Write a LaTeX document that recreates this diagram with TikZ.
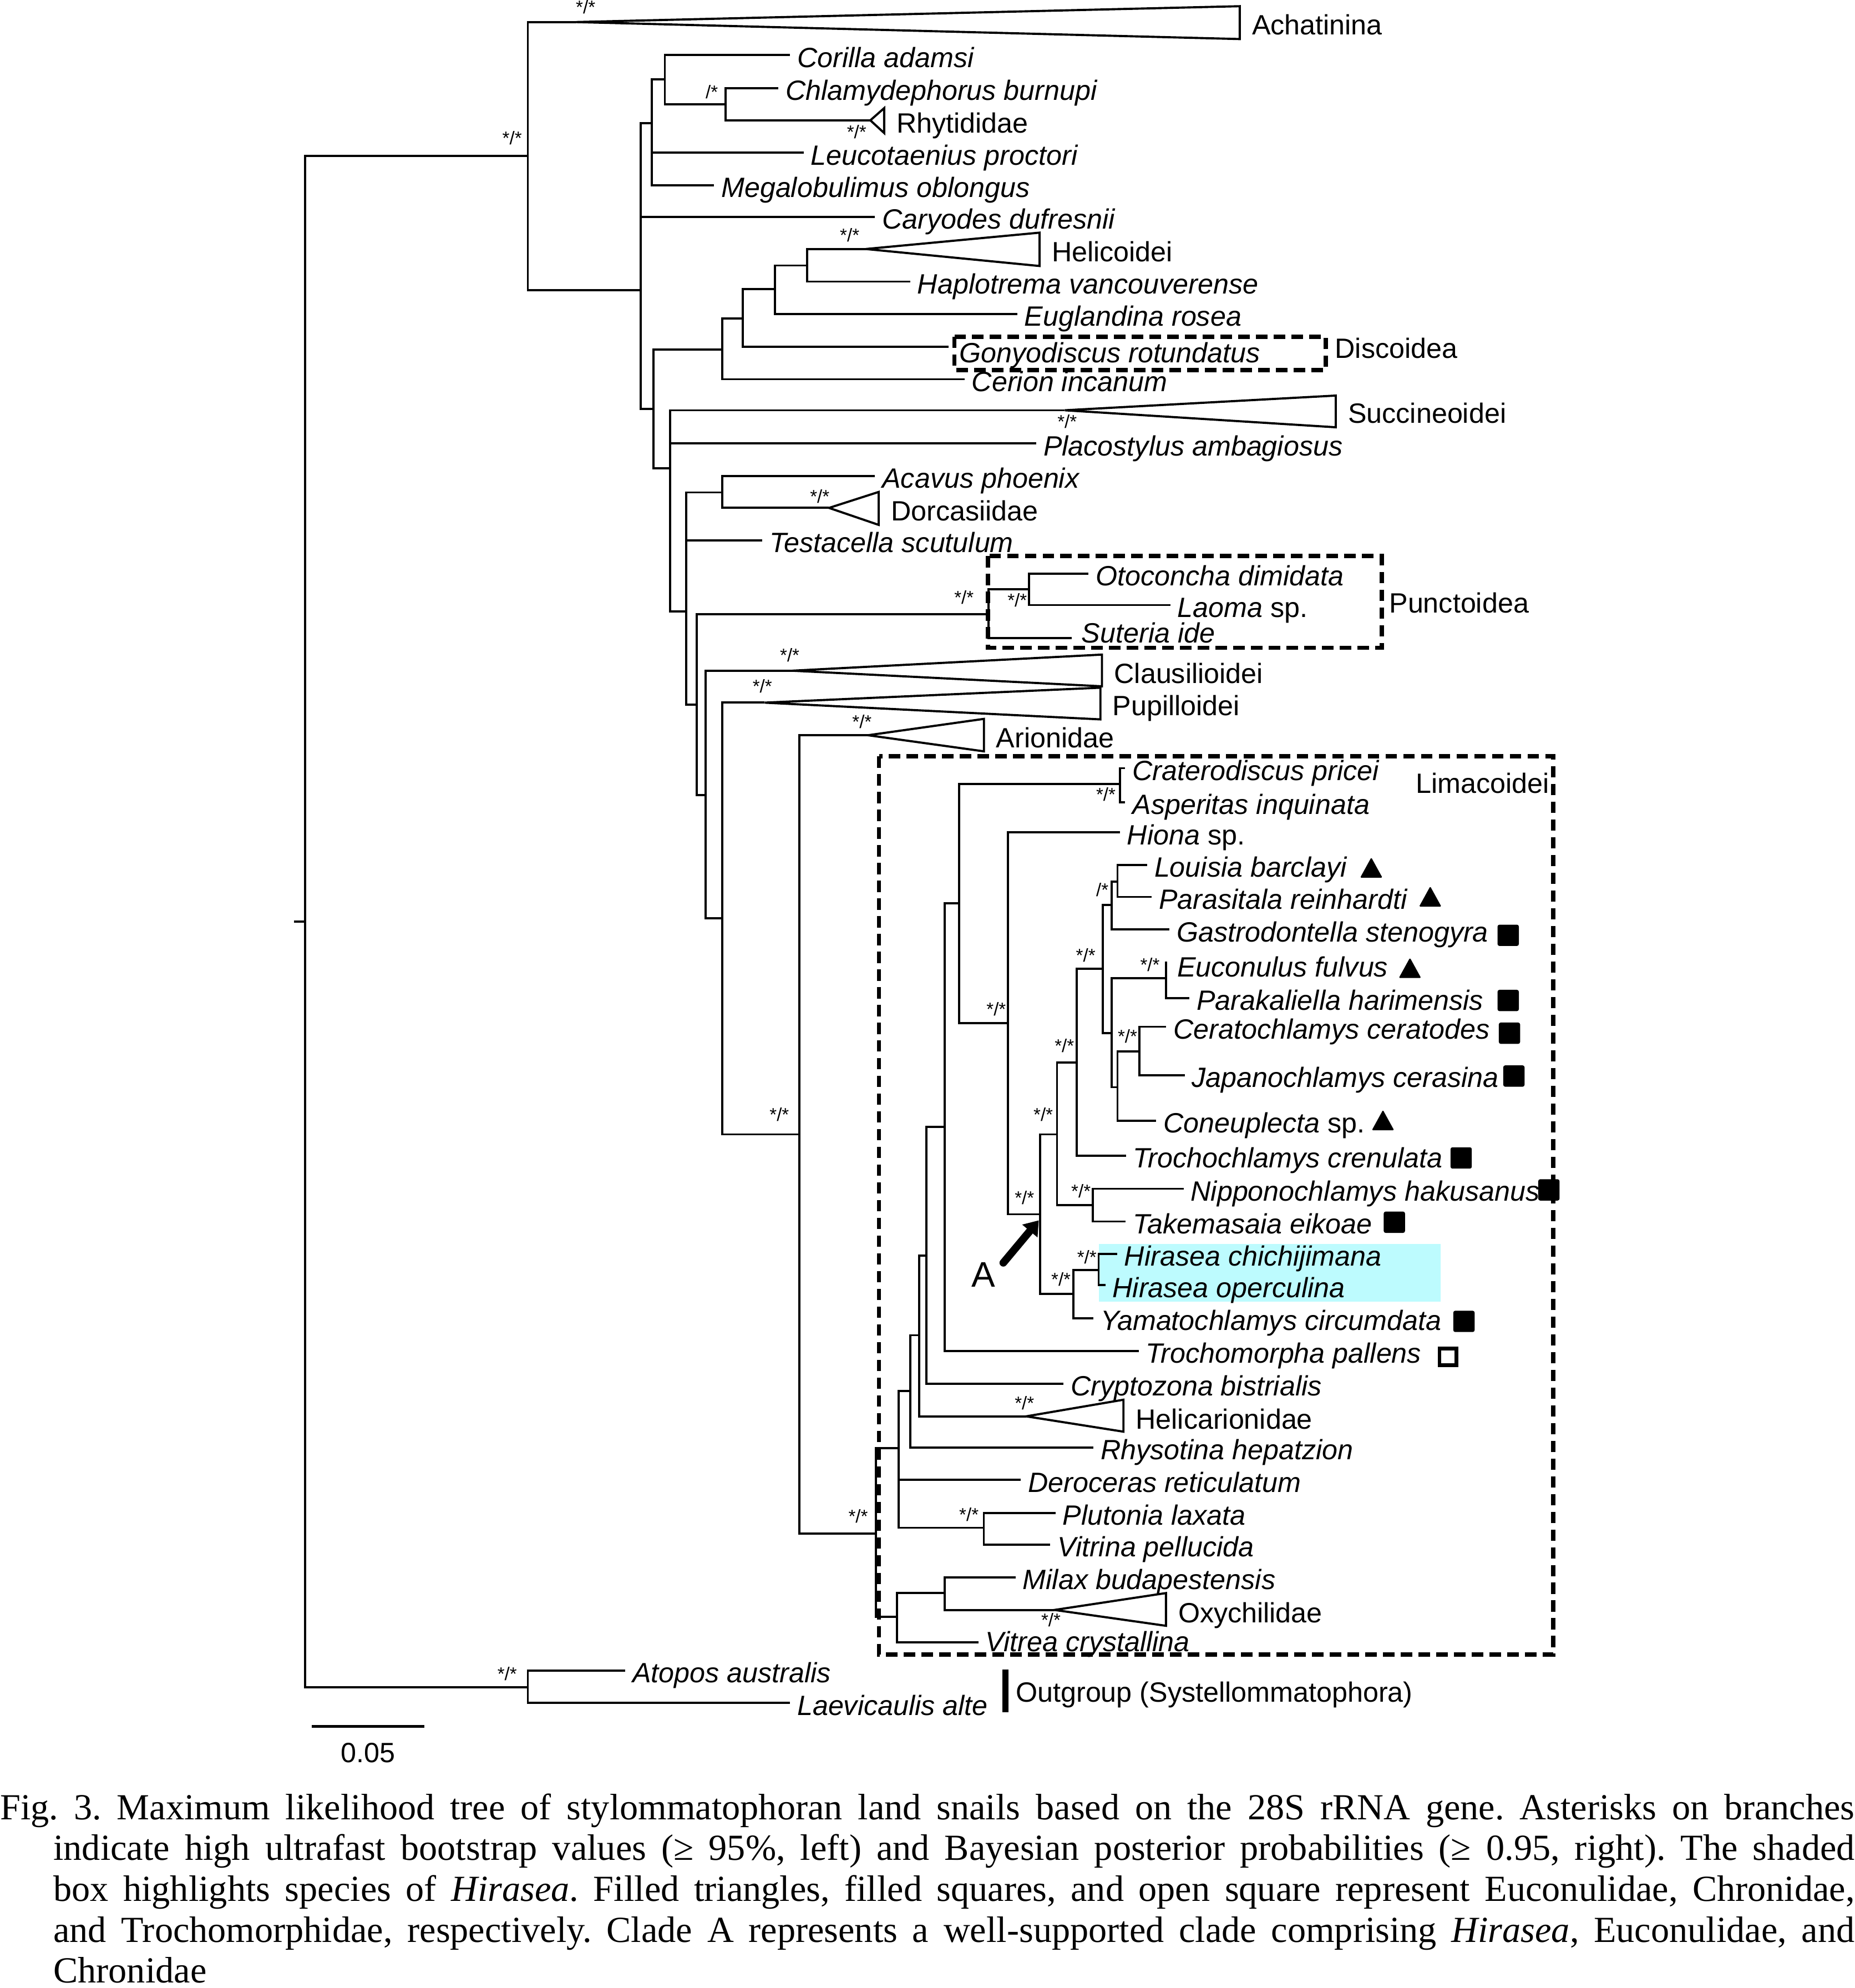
\documentclass[tikz,border=0pt]{standalone}
\usepackage{fontspec}
\setmainfont{Liberation Sans}
\newfontfamily\capfont{Liberation Serif}
\usetikzlibrary{arrows.meta}
\definecolor{hiraseabg}{RGB}{189,251,254}
\newcommand{\bothsig}{*/*}
\newcommand{\bayessig}{/*}
\begin{document}
\begin{tikzpicture}[x=1pt,y=-1pt,
  branch/.style={line width=1.7pt},
  taxon/.style={anchor=base west,inner sep=0pt,xshift=5.5pt,yshift=-9.5pt,font=\fontsize{22}{26}\selectfont\itshape},
  cladename/.style={anchor=base west,inner sep=0pt,xshift=9.5pt,yshift=-10pt,font=\fontsize{22}{26}\selectfont},
  boxname/.style={anchor=base west,inner sep=0pt,font=\fontsize{22}{26}\selectfont},
  support/.style={inner sep=0pt,font=\fontsize{14.5}{17}\selectfont},
  dashbox/.style={line width=3.3pt,dash pattern=on 9pt off 5pt},
  captionline/.style={anchor=base west,inner sep=0pt,font=\capfont\fontsize{29}{32.5}\selectfont\frenchspacing}]
\useasboundingbox (0,0) rectangle (1463,1568);
\fill[hiraseabg] (866.7,981) rectangle (1136.5,1026.7);
% tree nodes and tips
\foreach \n/\x/\y in {r/240.5/726.7,rs/232/726.7,n1/416.4/122.8,acha/454.5/17.4,n2/505.3/228.8,
  n3/514.3/97.1,n4/524.5/62.5,corilla/623.2/43.5,n5/572.4/82.1,chlamy/614/69.6,rhyt/686.6/94.9,
  leuco/634/120.5,megalo/563.3/146.2,caryo/690.3/171,n10/515.4/322.5,n11/569.8/275.6,
  n12/585.8/251.1,n13/611.5/228.1,n14/636.6/209.4,helic/683/196.4,haplo/718.1/222.1,
  eugla/802.5/247.8,gonyo/748.3/273.4,cerion/761/299.1,n20/528.8/369.4,succ/840/323.6,
  placo/817.5/349.8,n21/541.5/482.1,n22/569.8/388.4,acavus/690.3/375.6,dorc/654/400.6,
  testa/601.4/426.3,n24/549.5/555.8,p0/780/484.3,p1/811.9/464.7,otoc/858.8/452.4,
  laoma/923.3/477.2,suter/845.6/503.3,n25/556.8/627.2,claus/625/529,n26/569.6/724.4,
  pupil/603.2/554.2,n27/630.5/894.7,arion/684.8/579.9,L0/691/1209.5,L1/709.1/1142.2,
  L2/718.1/1097,L3/725.3/1053.1,L4/730.9/990.3,L5/745.4/888.9,L6/756.6/712.4,crat/883.5/618.5,
  crate/887.7/605.9,asper/887.7/632.8,L7/795/806.8,hiona/883.5/656.6,A0/820.7/957.7,
  A1/833.9/894.7,A3/849.5/838,E0/870.1/764.1,E1/877.1/713.9,E3/881.6/695.5,louis/905/682.2,
  paras/908.6/707.4,gastro/922.6/733.2,E2/877.1/814.8,E4/920/771.6,eucon/920/758.3,
  parak/938.4/787.2,E5/881.6/857.5,E6/899/829.4,cerat/920/809.8,japan/934.6/848,
  conep/912.2/883.9,troch/888.3/911.5,nipn/862/950.4,nippo/933.7/937.6,takem/888/963.4,
  A2/846.7/1020.4,H0/866.7/1001.6,hchich/881.3/989,hoperc/872/1013.7,yamat/862.7/1039.8,
  tromo/898.3/1065.6,crypt/838.9/1091.5,helicar/809.6/1117.1,rhyso/862.6/1141.7,
  derop/805.4/1167.3,pv/776.1/1205,pluto/832.7/1193.2,vitrin/828.6/1218.3,M0/707.7/1275.3,
  M1/745.4/1256.5,milax/801.2/1244,oxy/831.9/1269.8,vitrea/771.9/1295.4,og/416.4/1330.6,
  atopos/493.3/1317.7,laevi/623.2/1343.2}
  \coordinate (\n) at (\x,\y);
\draw[branch] (rs) -- (r);
\foreach \p/\c in {r/n1,r/og,n1/acha,n1/n2,n2/n3,n2/caryo,n2/n10,n3/n4,n3/leuco,n3/megalo,
  n4/corilla,n4/n5,n5/chlamy,n5/rhyt,n10/n11,n10/n20,n11/n12,n11/cerion,n12/n13,n12/gonyo,
  n13/n14,n13/eugla,n14/helic,n14/haplo,n20/succ,n20/placo,n20/n21,n21/n22,n21/testa,n21/n24,
  n22/acavus,n22/dorc,n24/p0,n24/n25,p0/p1,p0/suter,p1/otoc,p1/laoma,n25/claus,n25/n26,
  n26/pupil,n26/n27,n27/arion,n27/L0,L0/L1,L0/M0,L1/L2,L1/derop,L1/pv,L2/L3,L2/rhyso,
  L3/L4,L3/helicar,L4/L5,L4/crypt,L5/L6,L5/tromo,L6/crat,L6/L7,crat/crate,crat/asper,
  L7/hiona,L7/A0,A0/A1,A0/A2,A1/A3,A1/nipn,A3/E0,A3/troch,E0/E1,E0/E2,E1/E3,E1/gastro,
  E3/louis,E3/paras,E2/E4,E2/E5,E4/eucon,E4/parak,E5/E6,E5/conep,E6/cerat,E6/japan,
  nipn/nippo,nipn/takem,A2/H0,A2/yamat,H0/hchich,H0/hoperc,pv/pluto,pv/vitrin,M0/M1,
  M0/vitrea,M1/milax,M1/oxy,og/atopos,og/laevi}
  \draw[branch] (\p) |- (\c);
% collapsed clades
\foreach \a/\xr/\yt/\yb/\txt in {acha/978/4.9/30.8/Achatinina,rhyt/697.5/85.3/104.9/Rhytididae,
  helic/820.1/183.5/209.8/Helicoidei,succ/1053.8/312/337/Succineoidei,
  dorc/693.2/388/414/Dorcasiidae,claus/869.3/516.3/541.3/Clausilioidei,
  pupil/868.1/542.4/567.4/Pupilloidei,arion/776.2/567/592.6/Arionidae,
  helicar/886.3/1104/1129.2/Helicarionidae,oxy/919.8/1256.5/1282.3/Oxychilidae} {
  \draw[branch] (\a) -- (\xr,\yt) -- (\xr,\yb) -- cycle;
  \coordinate (\a-end) at (\xr,0);
  \node[cladename] (\a-lab) at (\a -| \a-end) {\txt};
}
% tip labels
\foreach \t/\txt in {corilla/Corilla adamsi,chlamy/Chlamydephorus burnupi,leuco/Leucotaenius proctori,
  megalo/Megalobulimus oblongus,caryo/Caryodes dufresnii,haplo/Haplotrema vancouverense,
  eugla/Euglandina rosea,cerion/Cerion incanum,placo/Placostylus ambagiosus,
  acavus/Acavus phoenix,testa/Testacella scutulum,otoc/Otoconcha dimidata,
  laoma/{Laoma \textup{sp.}},crate/Craterodiscus pricei,asper/Asperitas inquinata,
  hiona/{Hiona \textup{sp.}},louis/Louisia barclayi,paras/Parasitala reinhardti,
  gastro/Gastrodontella stenogyra,parak/Parakaliella harimensis,
  cerat/Ceratochlamys ceratodes,japan/Japanochlamys cerasina,conep/{Coneuplecta \textup{sp.}},
  troch/Trochochlamys crenulata,nippo/Nipponochlamys hakusanus,takem/Takemasaia eikoae,
  hchich/Hirasea chichijimana,hoperc/Hirasea operculina,yamat/Yamatochlamys circumdata,
  tromo/Trochomorpha pallens,crypt/Cryptozona bistrialis,rhyso/Rhysotina hepatzion,
  derop/Deroceras reticulatum,pluto/Plutonia laxata,vitrin/Vitrina pellucida,
  milax/Milax budapestensis,atopos/Atopos australis,laevi/Laevicaulis alte}
  \node[taxon] (\t-lab) at (\t) {\txt};
\node[taxon,xshift=3pt,yshift=-3pt] (gonyo-lab) at (gonyo) {Gonyodiscus rotundatus};
\node[taxon,xshift=2pt,yshift=6pt] (suter-lab) at (suter) {Suteria ide};
\node[taxon,xshift=3pt,yshift=-2.5pt] (eucon-lab) at (eucon) {Euconulus fulvus};
\node[taxon,yshift=2.5pt] (vitrea-lab) at (vitrea) {Vitrea crystallina};
% support values
\foreach [count=\i] \x/\y/\s in {404/109/\bothsig,462/5.5/\bothsig,561.5/72.5/\bayessig,
  675.8/103.8/\bothsig,670.3/185.3/\bothsig,841.9/332.6/\bothsig,646.7/391.7/\bothsig,
  760.5/471/\bothsig,802.5/473.2/\bothsig,623/516.7/\bothsig,601.4/541.3/\bothsig,
  680/569.2/\bothsig,614.8/878.9/\bothsig,872.4/626.5/\bothsig,785.9/796/\bothsig,
  869.6/701.8/\bayessig,856.5/753.3/\bothsig,907.2/760.8/\bothsig,889.5/817.3/\bothsig,
  839.7/824.9/\bothsig,823/878.9/\bothsig,808.2/944.6/\bothsig,852.8/939.3/\bothsig,
  857.4/991.6/\bothsig,837/1009/\bothsig,808.2/1106.6/\bothsig,764.4/1194.5/\bothsig,
  829.1/1277.8/\bothsig,677/1196/\bothsig,400.1/1320/\bothsig}
  \node[support] (bs\i) at (\x,\y) {\s};
% family markers
\foreach \x/\y in {1081.8/684.3,1128.3/707.1,1112.3/763.4,1091/883.5}
  \fill[rounded corners=0.8pt] (\x,\y) ++(-8.8,8) -- ++(17.6,0) -- ++(-8.8,-16) -- cycle;
\foreach \x/\y in {1189.8/737.7,1189.8/789.1,1190.8/814.9,1194.3/848.7,1152.7/913.3,
  1221.9/938.5,1100/964,1154.9/1042.2}
  \fill[rounded corners=1.5pt] (\x,\y) ++(-8.4,-8.4) rectangle ++(16.8,16.8);
\draw[line width=3pt] (1142.2,1070.3) ++(-6.6,-6.6) rectangle ++(13.2,13.2);
% superfamily boxes
\draw[dashbox] (753,265.6) rectangle (1046,292);
\draw[dashbox] (779.3,438.6) rectangle (1090,511);
\draw[dashbox] (693.5,596.5) rectangle (1225.3,1305);
\node[boxname] (discoidea) at (1053,282.4) {Discoidea};
\node[boxname] (punctoidea) at (1095.8,483.3) {Punctoidea};
\node[boxname] (limacoidei) at (1116.7,625.6) {Limacoidei};
\draw[line width=5pt] (793.2,1316.7) -- (793.2,1350.6);
\node[boxname] (outgroup) at (801.2,1342.4) {Outgroup (Systellommatophora)};
% clade A
\coordinate (arrbase) at (791.5,996);
\coordinate (arrtip) at (819.5,962.5);
\draw[line width=6pt,line cap=round,-{Triangle[length=11pt,width=15pt]}] (arrbase) -- (arrtip);
\node[inner sep=0pt,font=\fontsize{28}{32}\selectfont] (cladeA) at (776,1005.4) {A};
% scale bar
\coordinate (sb1) at (246,1361.6);
\coordinate (sb2) at (334.8,1361.6);
\draw[line width=2.5pt] (sb1) -- (sb2);
\node[anchor=base,inner sep=0pt,font=\fontsize{22}{26}\selectfont] (sblab) at (290.4,1390) {0.05};
% caption
\node[captionline] (cap1) at (0,1435) {\makebox[1463pt][s]{Fig. 3. Maximum likelihood tree of stylommatophoran land snails based on the 28S rRNA gene. Asterisks on branches}};
\node[captionline] (cap2) at (42,1467.3) {\makebox[1421pt][s]{indicate high ultrafast bootstrap values (≥ 95\%, left) and Bayesian posterior probabilities (≥ 0.95, right). The shaded}};
\node[captionline] (cap3) at (42,1499.6) {\makebox[1421pt][s]{box highlights species of \textit{Hirasea}. Filled triangles, filled squares, and open square represent Euconulidae, Chronidae,}};
\node[captionline] (cap4) at (42,1531.9) {\makebox[1421pt][s]{and Trochomorphidae, respectively. Clade A represents a well-supported clade comprising \textit{Hirasea}, Euconulidae, and}};
\node[captionline] (cap5) at (42,1564) {Chronidae};
\end{tikzpicture}
\end{document}
